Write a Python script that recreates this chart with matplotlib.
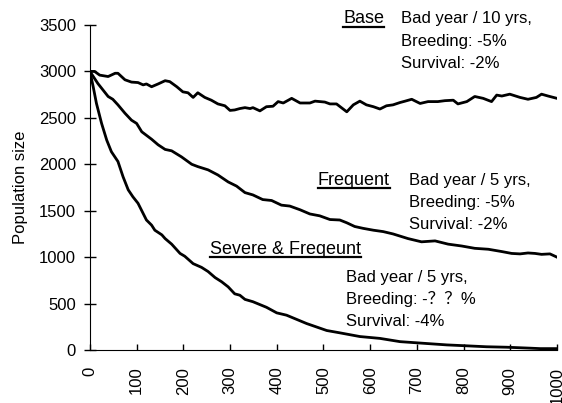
import matplotlib
matplotlib.use("Agg")
import matplotlib.pyplot as plt
from matplotlib.lines import Line2D
from matplotlib.transforms import IdentityTransform

plt.rcParams["font.family"] = ["Liberation Sans", "Noto Sans CJK SC", "DejaVu Sans"]

# Data
base_years = [0, 10, 21, 39, 54, 60, 75, 89, 103, 114,
              121, 132, 146, 161, 171, 186, 199, 210, 221, 231,
              246, 260, 274, 289, 300, 310, 321, 332, 343, 349,
              364, 378, 392, 403, 414, 432, 450, 471, 482, 503,
              514, 528, 550, 564, 578, 592, 607, 621, 635, 649,
              664, 675, 689, 707, 724, 745, 760, 778, 788, 807,
              824, 842, 860, 871, 882, 899, 921, 938, 956, 967,
              981, 1000]
base_pop = [3000, 3000, 2960, 2945, 2980, 2980, 2910, 2885, 2880, 2855,
            2865, 2835, 2865, 2900, 2890, 2835, 2780, 2770, 2720, 2770,
            2720, 2690, 2650, 2630, 2580, 2585, 2600, 2610, 2600, 2610,
            2575, 2620, 2625, 2675, 2660, 2710, 2660, 2660, 2680, 2670,
            2650, 2650, 2565, 2640, 2680, 2640, 2620, 2595, 2630, 2640,
            2665, 2680, 2700, 2655, 2675, 2675, 2685, 2690, 2650, 2675,
            2730, 2710, 2675, 2745, 2735, 2755, 2720, 2700, 2720, 2755,
            2735, 2710]

freq_years = [0, 17, 28, 39, 49, 60, 75, 89, 100, 111,
              132, 146, 161, 175, 196, 218, 231, 253, 274, 296,
              314, 332, 349, 370, 389, 410, 428, 450, 471, 492,
              514, 535, 550, 567, 585, 607, 628, 649, 681, 710,
              739, 767, 796, 824, 853, 882, 903, 921, 938, 953,
              967, 985, 1000]
freq_pop = [3000, 2870, 2800, 2730, 2700, 2640, 2550, 2475, 2440, 2350,
            2270, 2210, 2160, 2145, 2080, 2000, 1975, 1940, 1885, 1810,
            1765, 1695, 1670, 1620, 1610, 1560, 1550, 1510, 1465, 1445,
            1405, 1400, 1370, 1330, 1310, 1290, 1275, 1250, 1200, 1165,
            1175, 1140, 1120, 1095, 1085, 1060, 1040, 1035, 1045, 1040,
            1030, 1035, 1000]

severe_years = [0, 7, 14, 25, 36, 46, 60, 71, 82, 92,
                103, 114, 121, 132, 139, 154, 161, 175, 193, 203,
                221, 239, 253, 268, 282, 296, 310, 321, 332, 349,
                378, 400, 421, 464, 507, 535, 578, 621, 664, 721,
                764, 807, 849, 892, 942, 964, 1000]
severe_pop = [3000, 2835, 2655, 2440, 2260, 2135, 2030, 1865, 1725, 1650,
              1580, 1470, 1400, 1345, 1290, 1240, 1200, 1140, 1040, 1010,
              930, 890, 845, 780, 735, 680, 605, 590, 545, 520,
              460, 400, 375, 285, 210, 185, 145, 125, 90, 70,
              55, 45, 35, 30, 20, 15, 15]

fig = plt.figure(figsize=(5.62, 4.03), dpi=100)
ax = fig.add_axes([0.160, 0.1315, 0.831, 0.8065])

for xs, ys in [(base_years, base_pop), (freq_years, freq_pop), (severe_years, severe_pop)]:
    ax.plot(xs, ys, color="black", lw=2)

ax.set_xlim(0, 1000)
ax.set_ylim(0, 3500)
ax.set_xticks(range(0, 1001, 100))
ax.set_yticks(range(0, 3501, 500))
ax.tick_params(axis="x", direction="in", length=4, width=1, pad=12,
               labelrotation=90, labelsize=12)
ax.tick_params(axis="y", direction="inout", length=8, width=1, pad=6,
               labelsize=12)
ax.spines["top"].set_visible(False)
ax.spines["right"].set_visible(False)
ax.set_ylabel("Population size", fontsize=12, labelpad=8)

# scenario titles (underlined) and descriptions
titles = [("Base", 542, 3519), ("Frequent", 488, 1777), ("Severe & Freqeunt", 258, 1034)]
notes = [
    (667, [3519, 3275, 3042], ["Bad year / 10 yrs,", "Breeding: -5%", "Survival: -2%"]),
    (684, [1777, 1535, 1303], ["Bad year / 5 yrs,", "Breeding: -5%", "Survival: -2%"]),
    (548, [734, 495, 261], ["Bad year / 5 yrs,", "Breeding: -\uff1f\uff1f%", "Survival: -4%"]),
]

title_texts = []
for label, x, y in titles:
    t = ax.text(x, y, label, fontsize=13, va="baseline", ha="left", clip_on=False)
    title_texts.append(t)

for x, ys, lines in notes:
    for y, line in zip(ys, lines):
        ax.text(x, y, line, fontsize=12, va="baseline", ha="left", clip_on=False)

fig.canvas.draw()
renderer = fig.canvas.get_renderer()
for t in title_texts:
    bb = t.get_window_extent(renderer)
    _, yb = ax.transData.transform(t.get_position())
    fig.add_artist(Line2D([bb.x0, bb.x1], [yb - 3.5, yb - 3.5], color="black",
                          lw=1.6, transform=IdentityTransform()))

fig.savefig("out.png", dpi=100)
